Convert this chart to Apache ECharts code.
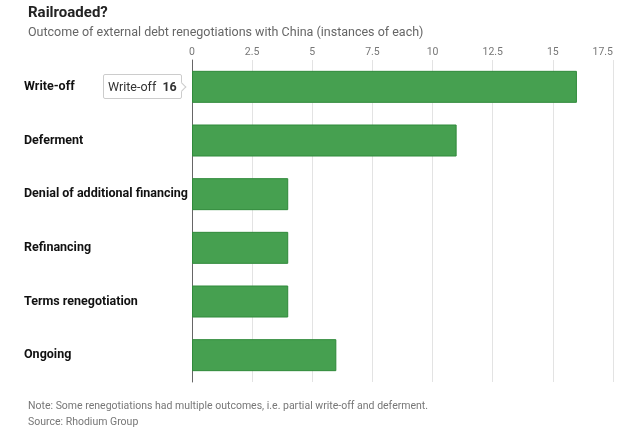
<!DOCTYPE html>
<html>
<head>
<meta charset="utf-8">
<script src="https://cdn.jsdelivr.net/npm/echarts@6/dist/echarts.min.js"></script>
<style>
  html, body { margin: 0; padding: 0; background: #fff; }
  #chart { width: 640px; height: 435px; }
</style>
</head>
<body>
<div id="chart"></div>
<script>
// outcomes, top to bottom as in the picture
var outcomes = ['Write-off', 'Deferment', 'Denial of additional financing', 'Refinancing', 'Terms renegotiation', 'Ongoing'];
var instances = [16, 11, 4, 4, 4, 6];
var xTicks = [0, 2.5, 5, 7.5, 10, 12.5, 15, 17.5];

var FONT = 'Roboto, "Noto Sans", sans-serif';

var myChart = echarts.init(document.getElementById('chart'));

var option = {
    animation: false,
    textStyle: { fontFamily: FONT },
    title: [{
        text: 'Railroaded?',
        left: 23,
        top: 1,
        textStyle: { fontSize: 15, fontWeight: 'bold', color: '#222', fontFamily: FONT }
    }, {
        text: 'Outcome of external debt renegotiations with China (instances of each)',
        left: 23,
        top: 21,
        textStyle: { fontSize: 12.5, fontWeight: 'normal', color: '#666', fontFamily: FONT }
    }, {
        text: 'Note: Some renegotiations had multiple outcomes, i.e. partial write-off and deferment.',
        left: 23,
        top: 396,
        textStyle: { fontSize: 10.5, fontWeight: 'normal', color: '#777', fontFamily: FONT }
    }, {
        text: 'Source: Rhodium Group',
        left: 23,
        top: 412,
        textStyle: { fontSize: 10.5, fontWeight: 'normal', color: '#777', fontFamily: FONT }
    }],
    tooltip: {
        trigger: 'item',
        position: 'left',
        backgroundColor: '#fff',
        borderColor: '#ccc',
        borderWidth: 1,
        padding: [2, 4],
        extraCssText: 'box-shadow:none;border-radius:2px;',
        textStyle: { fontFamily: FONT, fontSize: 12.5, color: '#333' },
        formatter: function(p) {
            return p.name + '&nbsp;&nbsp;<b>' + p.value + '</b>';
        }
    },
    grid: {
        left: 192,
        right: 27,
        top: 60,
        bottom: 53
    },
    xAxis: {
        type: 'value',
        position: 'top',
        min: 0,
        max: 17.5,
        interval: 2.5,
        axisLine: { show: false },
        axisTick: { show: false },
        axisLabel: {
            color: '#777',
            fontSize: 10.5,
            margin: 2,
            alignMaxLabel: 'right',
            formatter: function(v) {
                return xTicks.indexOf(v) >= 0 ? String(v) : '';
            }
        },
        splitLine: { lineStyle: { color: '#e3e3e3', width: 1 } }
    },
    yAxis: {
        type: 'category',
        inverse: true,
        data: outcomes,
        axisLine: { show: true, lineStyle: { color: '#666', width: 1 } },
        axisTick: { show: false },
        axisLabel: {
            align: 'left',
            margin: 168,
            color: '#111',
            fontSize: 12.5,
            fontWeight: 'bold',
            padding: [6, 0, 0, 0]
        }
    },
    series: [{
        type: 'bar',
        data: instances,
        barWidth: 32,
        itemStyle: {
            color: '#46a050',
            borderColor: '#2f8a3a',
            borderWidth: 1
        },
        emphasis: { disabled: true }
    }]
};

myChart.setOption(option);
myChart.dispatchAction({ type: 'showTip', seriesIndex: 0, dataIndex: 0 });
</script>
</body>
</html>
